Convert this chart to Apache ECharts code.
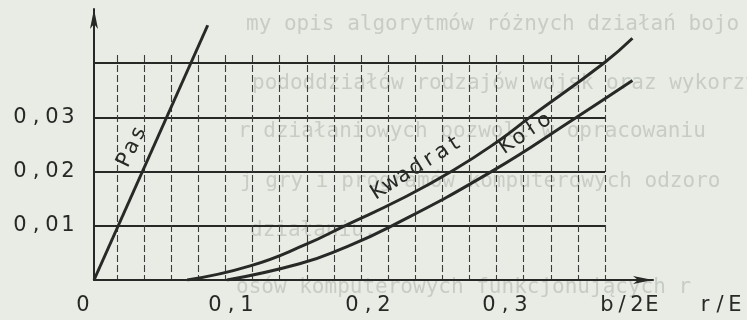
<!DOCTYPE html>
<html>
<head>
<meta charset="utf-8">
<script src="https://cdn.jsdelivr.net/npm/echarts@6/dist/echarts.min.js"></script>
<style>
  html, body { margin: 0; padding: 0; background: #e8ece5; }
  #chart { width: 747px; height: 320px; }
</style>
</head>
<body>
<div id="chart"></div>
<script>
// Pas: value against b/2E
const pasX = [0, 0.083];
const pasY = [0, 0.047];
// Kwadrat: value against r/E
const kwadratX = [0.068, 0.114, 0.155, 0.183, 0.223, 0.262, 0.296, 0.318, 0.372, 0.393];
const kwadratY = [0, 0.0026, 0.0066, 0.010, 0.0148, 0.0202, 0.0258, 0.030, 0.040, 0.0446];
// Koło: value against r/E
const koloX = [0.097, 0.150, 0.182, 0.216, 0.290, 0.352, 0.393];
const koloY = [0, 0.003, 0.0059, 0.0098, 0.020, 0.030, 0.0368];

// axis tick labels
const xTickLabels = ['0', '0,1', '0,2', '0,3'];
const yTickLabels = ['0,01', '0,02', '0,03'];
const xNames = ['b/2E', 'r/E'];

// faint typewritten text of the page showing through
const pageLines = [
  'my opis algorytmów różnych działań bojo',
  'pododdziałów rodzajów wojsk oraz wykorzy',
  'r działaniowych pozwoli w opracowaniu',
  'j gry i programów komputerowych odzoro',
  'działaniu.',
  'osów komputerowych funkcjonujących r'
];

const ink = '#262925';
const face = 'DejaVu Sans';

// typewriter look: every character gets its own fixed-width cell
function typed(s, key) {
  return s.split('').map(function (ch) { return '{' + key + '|' + ch + '}'; }).join('');
}
function cell(w, size) {
  return { width: w, align: 'center', fontFamily: face, fontSize: size, color: ink };
}
function pairs(xs, ys) { return xs.map(function (x, i) { return [x, ys[i]]; }); }

const chart = echarts.init(document.getElementById('chart'), null, { renderer: 'canvas' });
const lineStyle = { color: ink, width: 3 };

const pageText = pageLines.map(function (t, i) {
  const ys = [25, 84, 132, 182, 231, 288];
  const xs = [246, 252, 238, 240, 250, 236];
  return {
    type: 'text', z: -10, silent: true, x: xs[i], y: ys[i],
    style: { text: t, font: '21px "DejaVu Sans Mono"', fill: '#c7ccc4', verticalAlign: 'middle' }
  };
});

chart.setOption({
  animation: false,
  backgroundColor: '#e8ece5',
  grid: [
    { left: 94, right: 94, top: 9, bottom: 40 },   // curves and axes
    { left: 94, right: 142, top: 9, bottom: 40 },  // horizontal rules
    { left: 90, right: 142, top: 55, bottom: 40 }  // vertical rules
  ],
  xAxis: [
    {
      gridIndex: 0, type: 'value', min: 0, max: 0.408, interval: 0.1,
      axisLine: { show: true, symbol: ['none', 'arrow'], symbolSize: [6, 20], lineStyle: { color: ink, width: 2 } },
      axisTick: { show: false }, splitLine: { show: false },
      axisLabel: {
        margin: 15, showMaxLabel: false,
        formatter: function (v) {
          const k = Math.round(v * 10);
          if (k === 0) return '{z|' + xTickLabels[0] + '}';
          return k < xTickLabels.length ? typed(xTickLabels[k], 't') : '';
        },
        rich: { t: cell(16, 21), z: Object.assign(cell(16, 21), { padding: [0, 22, 0, 0] }) }
      },
      name: typed(xNames[0], 'n') + '{g|}' + typed(xNames[1], 'n'),
      nameLocation: 'end', nameGap: 18,
      nameTextStyle: {
        align: 'center', verticalAlign: 'top', padding: [15, 0, 0, 0],
        rich: { n: cell(15, 21), g: { width: 38 } }
      }
    },
    { gridIndex: 1, type: 'value', min: 0, max: 1, show: false },
    {
      gridIndex: 2, type: 'value', min: 0, max: 19, interval: 1,
      axisLine: { show: false }, axisTick: { show: false }, axisLabel: { show: false },
      splitLine: { show: true, showMinLine: false, lineStyle: { color: '#3a3d39', width: 1.1, type: [7, 3] } }
    }
  ],
  yAxis: [
    {
      gridIndex: 0, type: 'value', min: 0, max: 0.05, interval: 0.01,
      axisLine: { show: true, symbol: ['none', 'arrow'], symbolSize: [6, 20], lineStyle: { color: ink, width: 2 } },
      axisTick: { show: false }, splitLine: { show: false },
      axisLabel: {
        margin: 18, showMinLabel: false, showMaxLabel: false,
        formatter: function (v) {
          const k = Math.round(v * 100);
          return (k >= 1 && k <= yTickLabels.length) ? typed(yTickLabels[k - 1], 't') : '';
        },
        rich: { t: cell(16, 21) }
      }
    },
    {
      gridIndex: 1, type: 'value', min: 0, max: 0.05, interval: 0.01,
      axisLine: { show: false }, axisTick: { show: false }, axisLabel: { show: false },
      splitLine: { show: true, showMaxLine: false, lineStyle: { color: ink, width: 2 } }
    },
    { gridIndex: 2, type: 'value', min: 0, max: 1, show: false }
  ],
  series: [
    {
      name: 'Pas', type: 'line', xAxisIndex: 0, yAxisIndex: 0, showSymbol: false,
      lineStyle: lineStyle, data: pairs(pasX, pasY)
    },
    {
      name: 'Kwadrat', type: 'line', xAxisIndex: 0, yAxisIndex: 0, smooth: 0.5, showSymbol: false,
      lineStyle: lineStyle, data: pairs(kwadratX, kwadratY)
    },
    {
      name: 'Koło', type: 'line', xAxisIndex: 0, yAxisIndex: 0, smooth: 0.5, showSymbol: false,
      lineStyle: lineStyle, data: pairs(koloX, koloY)
    }
  ]
});

// curve names written along each curve, anchored on one of its points
const curveNames = [
  { text: 'Pas', at: [pasX[0], pasY[0]], shift: [38, -133], angle: 64 },
  { text: 'Kwadrat', at: [kwadratX[4], kwadratY[4]], shift: [17, -32], angle: 32 },
  { text: 'Koło', at: [koloX[4], koloY[4]], shift: [34, -38], angle: 34 }
];

const nameText = curveNames.map(function (c) {
  const p = chart.convertToPixel({ xAxisIndex: 0, yAxisIndex: 0 }, c.at);
  return {
    type: 'text', z: 50, silent: true,
    x: p[0] + c.shift[0], y: p[1] + c.shift[1], rotation: c.angle * Math.PI / 180,
    style: {
      text: typed(c.text, 'c'), align: 'center', verticalAlign: 'middle',
      rich: { c: { width: 15, align: 'center', fontFamily: face, fontSize: 21, fill: ink } }
    }
  };
});

chart.setOption({ graphic: pageText.concat(nameText) });
</script>
</body>
</html>
